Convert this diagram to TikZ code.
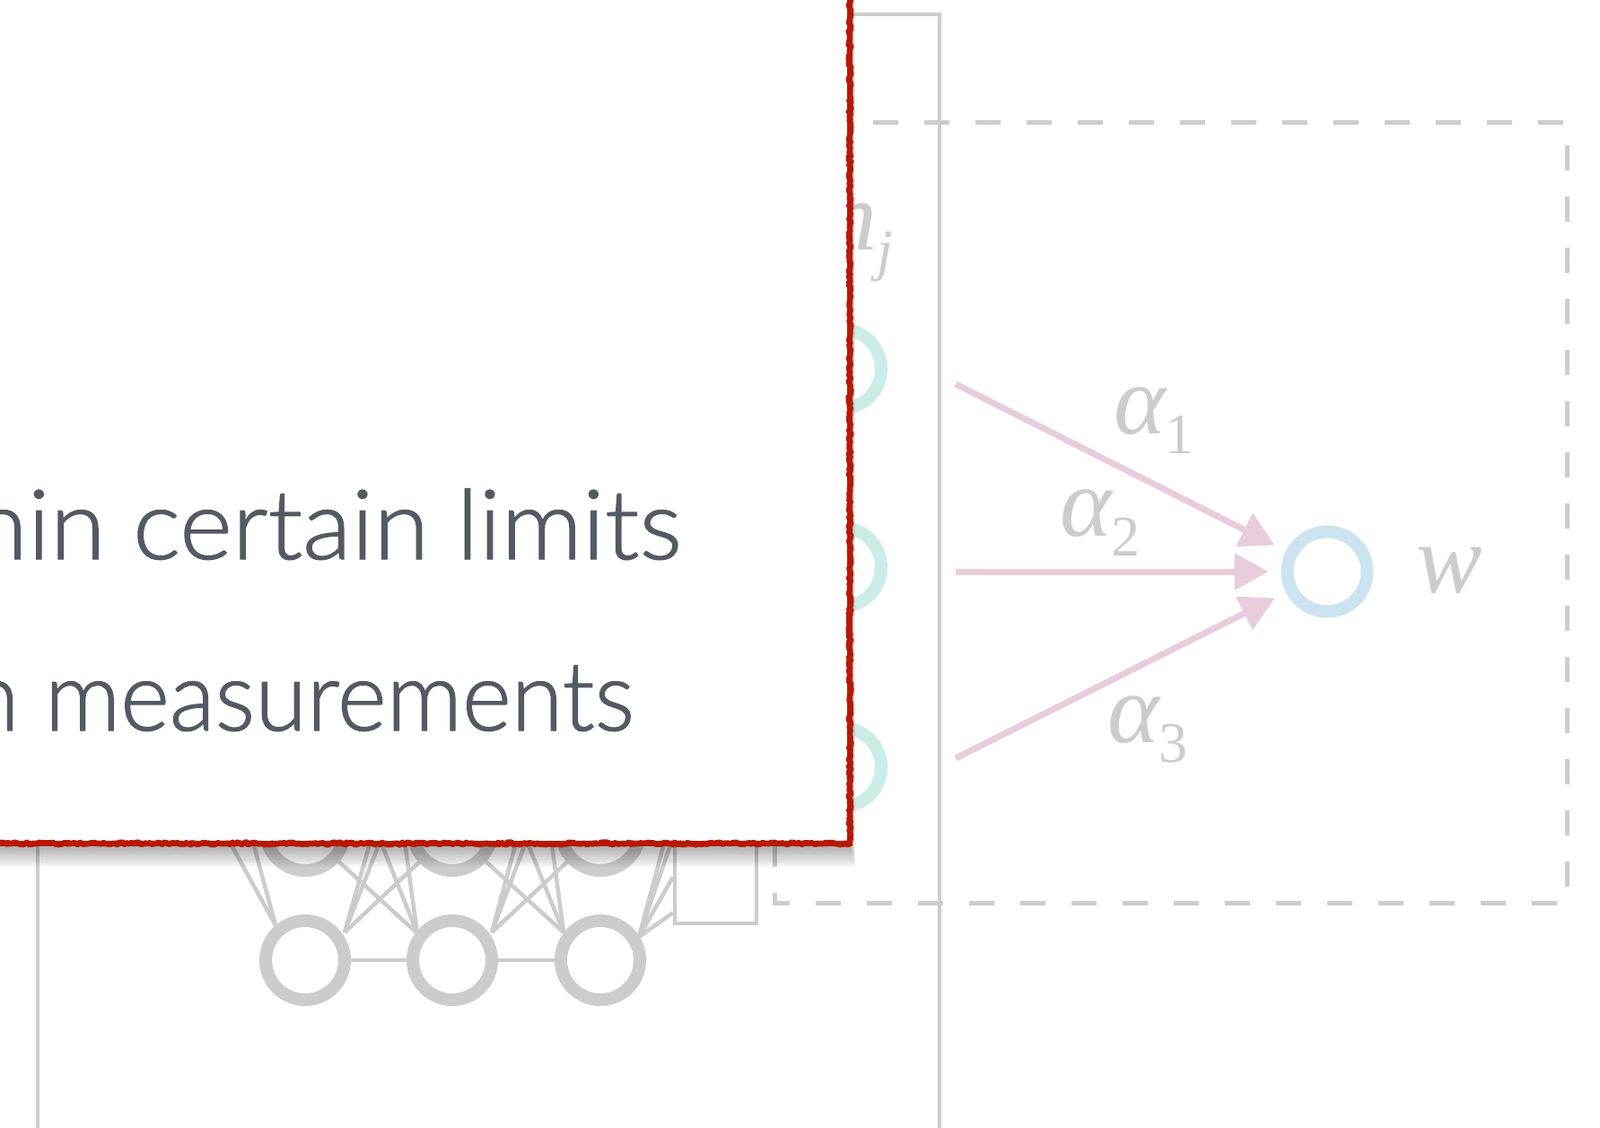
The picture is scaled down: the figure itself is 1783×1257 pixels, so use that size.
\documentclass[tikz,border=0pt]{standalone}
\usepackage{fontspec}
\newfontfamily\popfont{Lato}[UprightFont=* Light,FakeBold=1.2]
\newfontfamily\lblfont{Liberation Serif}
\usetikzlibrary{arrows.meta,decorations.pathmorphing,calc}
\definecolor{lgray}{RGB}{204,204,204}
\definecolor{tealc}{RGB}{203,237,230}
\definecolor{bluec}{RGB}{205,227,240}
\definecolor{pinkc}{RGB}{232,205,221}
\definecolor{redc}{RGB}{184,24,0}
\definecolor{txtc}{RGB}{84,90,99}
\newcommand\mylbl[2]{{\fontsize{110}{115}\selectfont\lblfont\itshape #1}\raisebox{-22pt}{\fontsize{64}{68}\selectfont\lblfont #2}}
\begin{document}
\begin{tikzpicture}[x=1pt,y=-1pt,
  netline/.style={draw=lgray,line width=4.5pt},
  neuron/.style={circle,draw=lgray,line width=14pt,minimum size=88pt,inner sep=0pt},
  tealneuron/.style={circle,draw=tealc,line width=14pt,minimum size=88pt,inner sep=0pt},
  blueneuron/.style={circle,draw=bluec,line width=14pt,minimum size=89pt,inner sep=0pt},
  pinkarrow/.style={draw=pinkc,line width=7pt,-{Triangle[length=38pt,width=40pt]},shorten >=14pt},
  lbl/.style={anchor=base west,inner sep=0pt,text=lgray},
  poptext/.style={anchor=base east,inner sep=0pt,text=txtc,font=\popfont\fontsize{108}{120}\selectfont},
  frameline/.style={draw=lgray,line width=4.5pt},
  dashframe/.style={draw=lgray,line width=5pt,dash pattern=on 28pt off 29pt,dash phase=54pt}]
\useasboundingbox (0,0) rectangle (1783,1257);
\clip (0,0) rectangle (1783,1257);
\fill[white] (0,0) rectangle (1783,1257);

% frames
\draw[frameline] (42,1300) -- (42,16) -- (1047,16) -- (1047,1300);
\draw[dashframe] (863,137) rectangle (1746,1006);

% network nodes
\node[neuron] (m1) at (340,926) {};
\node[neuron] (m2) at (504,926) {};
\node[neuron] (m3) at (669,926) {};
\node[neuron] (b1) at (340,1070) {};
\node[neuron] (b2) at (504,1070) {};
\node[neuron] (b3) at (669,1070) {};
\node[draw=lgray,line width=4.5pt,minimum width=91pt,minimum height=91pt,inner sep=0pt] (r) at (797.5,983.5) {};

% ports
\coordinate (b1pl) at (307,1031);
\coordinate (b1pr) at (384,1039);
\coordinate (b2pl) at (465,1040);
\coordinate (b2pr) at (548,1039);
\coordinate (b3pl) at (628,1039);
\coordinate (b3pr) at (712,1044);
% hidden sources
\coordinate (s1) at (224,880);
\coordinate (s2) at (266,880);
\coordinate (s3) at (429,880);
\coordinate (s4) at (446,880);
\coordinate (s5) at (401,880);
\coordinate (s6) at (443,880);
\coordinate (s7) at (591,880);
\coordinate (s8) at (608,880);
\coordinate (s9) at (564,880);
\coordinate (s10) at (607,880);
\coordinate (s11) at (756,880);
\coordinate (s12) at (768,880);

\draw[netline] (s1) -- (b1pl);
\draw[netline] (s2) -- (b1pl);
\draw[netline] (s3) -- (b1pr);
\draw[netline] (s4) -- (b1pr);
\draw[netline] (s5) -- (b2pl);
\draw[netline] (s6) -- (b2pl);
\draw[netline] (s7) -- (b2pr);
\draw[netline] (s8) -- (b2pr);
\draw[netline] (s9) -- (b3pl);
\draw[netline] (s10) -- (b3pl);
\draw[netline] (s11) -- (b3pr);
\draw[netline] (s12) -- (b3pr);
\draw[netline] (m2) -- (b1pr);
\draw[netline] (m1) -- (b2pl);
\draw[netline] (m3) -- (b2pr);
\draw[netline] (m2) -- (b3pl);
\draw[netline] (r) -- (b3pr);
\draw[netline] ($(r.west)+(0,-6)$) -- (b3pr);
\draw[netline] (b1) -- (b2);
\draw[netline] (b2) -- (b3);

% hidden units
\node[tealneuron] (h1) at (938,411) {};
\node[tealneuron] (h2) at (938,632) {};
\node[tealneuron] (h3) at (938,855) {};
\node[lbl] (hj) at (922,279) {\mylbl{h}{\itshape j}};

% output
\node[blueneuron] (out) at (1479,637) {};
\node[lbl] (wl) at (1578,660) {\mylbl{w}{}};
\coordinate (a1) at (1065,428);
\coordinate (a2) at (1065,637);
\coordinate (a3) at (1065,845);
\draw[pinkarrow] (a1) -- (out);
\draw[pinkarrow] (a2) -- (out);
\draw[pinkarrow] (a3) -- (out);
\node[lbl] (al1) at (1241,483) {\mylbl{α}{1}};
\node[lbl] (al2) at (1181,597) {\mylbl{α}{2}};
\node[lbl] (al3) at (1234,827) {\mylbl{α}{3}};

% popup shadow
\foreach \k in {1,...,12}
  \fill[black,opacity=0.032] (-100,-100) rectangle ({947+0.5*\k},{940+2.2*\k});
% popup
\fill[white] (-100,-100) rectangle (947,940);
\node[poptext] (t1) at (760,623) {\scalebox{1.04}[1]{hin certain limits}};
\node[poptext] (t2) at (707,814) {\scalebox{0.97}[1]{n measurements}};
\draw[redc,line width=5.5pt] (947,-30) -- (947,940) -- (-30,940);
\draw[redc,line width=6.5pt,line join=round,decorate,decoration={random steps,segment length=2.5pt,amplitude=1.4pt}] (947,-30) -- (947,940) -- (-30,940);
\end{tikzpicture}
\end{document}
